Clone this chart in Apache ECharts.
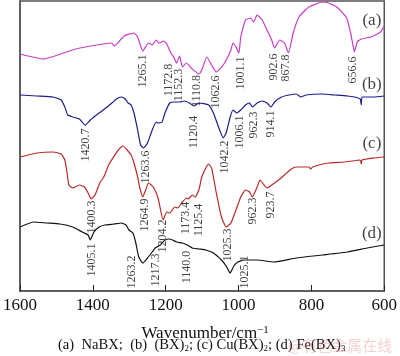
<!DOCTYPE html>
<html>
<head>
<meta charset="utf-8">
<script src="https://cdn.jsdelivr.net/npm/echarts@6/dist/echarts.min.js"></script>
<style>html,body{margin:0;padding:0;background:#fff}#c{width:400px;height:356px}</style>
</head>
<body>
<div id="c"></div>
<script>
// Transmittance (arbitrary, stacked) vs wavenumber (cm^-1)
const specA = [[1600,237],[1535,232],[1447,242],[1349,248],[1341,245],[1314,255],[1287,258],[1277,254],[1263,240],[1247,248],[1237,246],[1226,251],[1218,248],[1205,250],[1197,247],[1186,238],[1178,234],[1170,228],[1162,235],[1154,224],[1143,228],[1130,223],[1109,217],[1101,221],[1087,234],[1074,226],[1061,219],[1042,226],[1023,239],[1015,248],[1007,244],[999,238],[994,254],[981,271],[967,273],[959,269],[949,276],[935,271],[922,261],[909,251],[901,243],[887,251],[874,248],[863,238],[850,258],[834,274],[807,284],[770,289],[754,288],[727,283],[703,273],[693,259],[687,248],[682,239],[674,249],[663,252],[637,254],[610,259],[600,265]];
const specB = [[1600,196],[1554,195],[1509,194],[1487,191],[1477,184],[1469,176],[1455,174],[1437,172],[1421,166],[1407,171],[1383,178],[1357,185],[1335,192],[1322,194],[1311,192],[1303,188],[1295,186],[1287,178],[1277,161],[1269,146],[1261,143],[1250,148],[1237,161],[1226,169],[1221,168],[1210,169],[1202,178],[1189,188],[1175,189],[1162,189],[1149,190],[1135,188],[1122,185],[1109,188],[1082,186],[1069,178],[1055,164],[1042,153],[1034,158],[1023,174],[1015,181],[1005,178],[994,181],[981,186],[970,188],[962,184],[949,188],[935,190],[922,188],[911,184],[901,189],[882,194],[861,196],[842,197],[829,194],[815,196],[770,197],[735,196],[701,195],[682,194],[666,192],[663,186],[661,194],[629,194],[600,195]];
const specC = [[1600,134],[1554,138],[1509,139],[1487,137],[1477,131],[1471,119],[1466,106],[1455,103],[1437,106],[1423,104],[1413,98],[1405,92],[1394,96],[1381,108],[1370,114],[1362,121],[1357,126],[1343,134],[1330,141],[1317,145],[1306,141],[1295,136],[1287,128],[1277,114],[1271,103],[1263,94],[1255,101],[1247,108],[1234,104],[1221,93],[1207,71],[1197,79],[1189,78],[1175,84],[1167,83],[1154,89],[1143,93],[1138,92],[1127,96],[1119,94],[1109,101],[1101,114],[1090,123],[1082,127],[1074,123],[1069,114],[1061,98],[1047,74],[1034,64],[1021,68],[1007,81],[994,94],[981,101],[970,99],[962,94],[949,104],[941,111],[930,106],[922,103],[909,106],[890,111],[874,116],[855,122],[842,124],[807,124],[802,122],[797,124],[754,128],[709,129],[666,131],[663,127],[661,131],[629,133],[600,134]];
const specD = [[1600,64],[1562,69],[1527,68],[1490,67],[1455,64],[1429,59],[1413,56],[1407,51],[1402,55],[1397,59],[1383,64],[1367,66],[1341,67],[1322,68],[1309,66],[1301,61],[1290,58],[1282,48],[1274,34],[1263,28],[1250,33],[1237,39],[1229,43],[1215,46],[1202,51],[1189,52],[1170,49],[1154,48],[1141,46],[1127,43],[1109,42],[1090,41],[1069,38],[1047,31],[1034,25],[1023,18],[1013,25],[1002,29],[986,31],[967,31],[949,31],[903,29],[842,33],[770,36],[701,39],[647,43],[600,46]];

// peak annotations: [wavenumber, level, text]
const peakLabels = [
  [1263,220,'1265.1'],[1191,211,'1172.8'],[1165,206,'1152.3'],[1114,200,'1110.8'],[1061,199,'1062.6'],[994,218,'1001.1'],[903,224,'902.6'],[869,223,'867.8'],[685,221,'656.6'],
  [1418,146,'1420.7'],[1255,124,'1263.6'],[1122,159,'1120.4'],[1039,134,'1042.2'],[997,159,'1006.1'],[957,166,'962.3'],[911,167,'914.1'],
  [1402,74,'1400.3'],[1258,76,'1264.9'],[1207,55,'1204.2'],[1146,73,'1173.4'],[1108,71,'1125.4'],[1029,46,'1025.3'],[962,80,'962.3'],[911,86,'923.7'],
  [1402,31,'1405.1'],[1293,19,'1263.2'],[1228,21,'1217.3'],[1143,24,'1140.0'],[983,19,'1025.1']
];
const curveTags = [[634,270,'(a)'],[634,206,'(b)'],[634,147,'(c)'],[634,57,'(d)']];
const xTicks = [600, 800, 1000, 1200, 1400, 1600];

const SERIF = 'Liberation Serif, Times New Roman, serif';
const chart = echarts.init(document.getElementById('c'));
function line(data, color){
  return {type:'line', data, showSymbol:false, symbol:'none', smooth:0.15, lineStyle:{color, width:1.2}, z:3, animation:false};
}
chart.setOption({
  animation:false,
  backgroundColor:'#fff',
  grid:{left:15.7, right:8.3, top:1, bottom:65, show:true, borderColor:'#555', borderWidth:1.5, backgroundColor:'transparent'},
  xAxis:{type:'value', min:600, max:1600, interval:200, inverse:true,
    axisLine:{lineStyle:{color:'#555', width:1.5}},
    axisTick:{inside:true, length:6, lineStyle:{color:'#222', width:1}},
    axisLabel:{color:'#111', fontFamily:SERIF, fontSize:17, margin:6,
      formatter:v=> xTicks.includes(v) ? String(v) : ''},
    splitLine:{show:false},
    name:'Wavenumber/cm{sup|−1}', nameLocation:'middle', nameGap:34,
    nameTextStyle:{color:'#111', fontFamily:SERIF, fontSize:17, padding:[0,0,0,6],
      rich:{sup:{fontFamily:SERIF, fontSize:11, color:'#111', verticalAlign:'top', padding:[0,0,7,0]}}}
  },
  yAxis:{type:'value', min:0, max:290, axisLine:{show:true, lineStyle:{color:'#555', width:1.5}},
    axisTick:{show:false}, axisLabel:{show:false}, splitLine:{show:false}},
  title:{left:53, top:333, text:'(a)  NaBX;  (b)  (BX){s|2}; (c) Cu(BX){s|2}; (d) Fe(BX){s|3}',
    textStyle:{fontFamily:SERIF, fontSize:14.6, fontWeight:'normal', color:'#111',
      rich:{s:{fontFamily:SERIF, fontSize:9, color:'#111', verticalAlign:'bottom', padding:[6,0,0,0]}}}},
  graphic:[{type:'text', left:288, top:338, z:100, style:{text:'@有色金属在线', font:'15px "Noto Sans CJK SC"', fill:'rgba(225,120,120,0.35)'}}],
  series:[
    line(specA,'#c83cc8'),
    line(specB,'#1c1c8c'),
    line(specC,'#b82a2a'),
    line(specD,'#111111'),
    {type:'scatter', data:peakLabels.map(p=>[p[0],p[1],p[2]]), symbolSize:0, z:5, animation:false,
      label:{show:true, position:'inside', rotate:90, formatter:p=>p.data[2], color:'#111', fontFamily:SERIF, fontSize:12}},
    {type:'scatter', data:curveTags.map(p=>[p[0],p[1],p[2]]), symbolSize:0, z:5, animation:false,
      label:{show:true, position:'inside', formatter:p=>p.data[2], color:'#111', fontFamily:SERIF, fontSize:17}}
  ]
});
</script>
</body>
</html>
